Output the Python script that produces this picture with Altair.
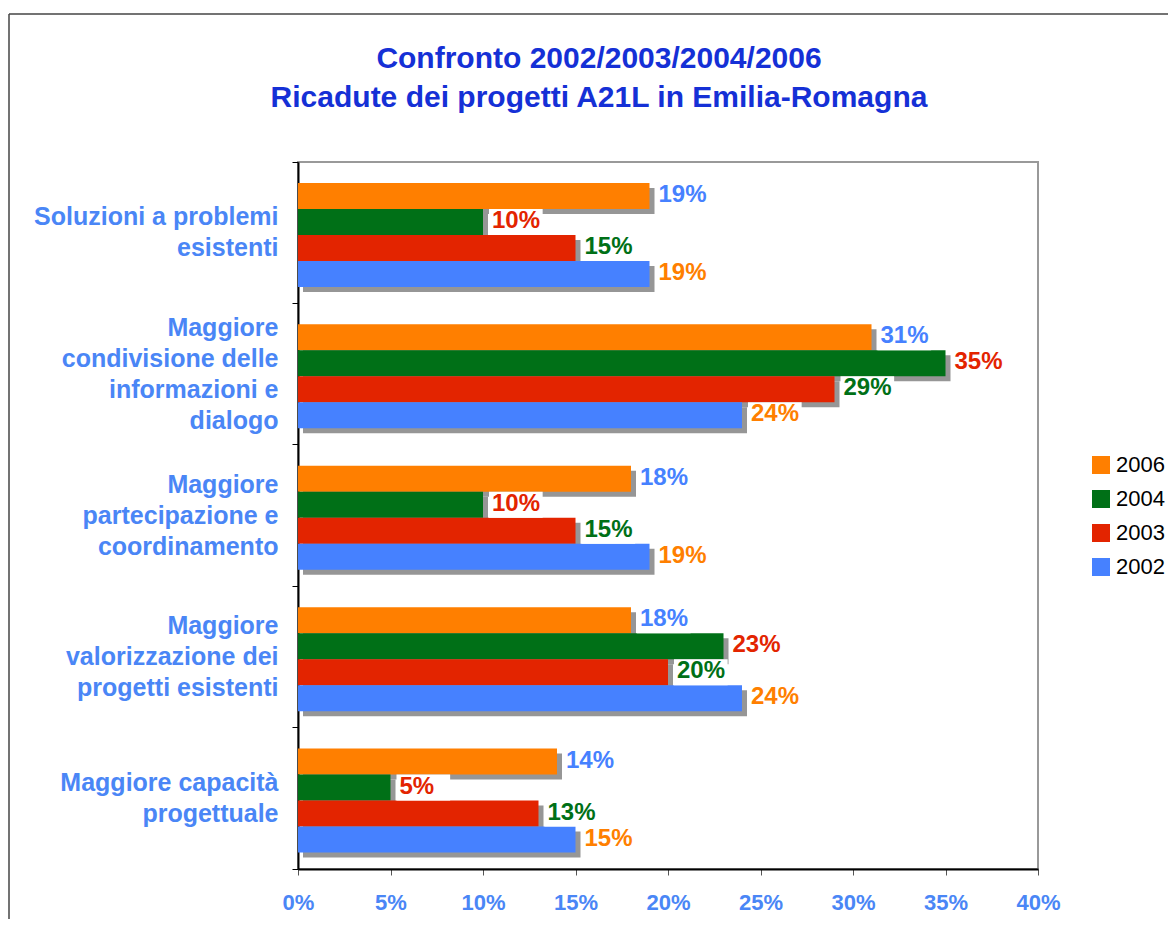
import altair as alt
import pandas as pd

categories = [
    "Soluzioni a problemi|esistenti",
    "Maggiore|condivisione delle|informazioni e|dialogo",
    "Maggiore|partecipazione e|coordinamento",
    "Maggiore|valorizzazione dei|progetti esistenti",
    "Maggiore capacità|progettuale",
]
years = ["2006", "2004", "2003", "2002"]
v2006 = [19, 31, 18, 18, 14]
v2004 = [10, 35, 10, 23, 5]
v2003 = [15, 29, 15, 20, 13]
v2002 = [19, 24, 19, 24, 15]
bar_colors = ["#FF7F00", "#007017", "#E32400", "#4681FF"]
label_colors = ["#4681FF", "#E32400", "#007017", "#FF7F00"]
x_ticks = [0, 5, 10, 15, 20, 25, 30, 35, 40]
title_lines = ["Confronto 2002/2003/2004/2006", "Ricadute dei progetti A21L in Emilia-Romagna"]

series = [v2006, v2004, v2003, v2002]
rows = []
for yi, (yr, vals) in enumerate(zip(years, series)):
    for ci, cat in enumerate(categories):
        rows.append({"cat": cat, "year": yr, "value": vals[ci], "lc": label_colors[yi]})
df = pd.DataFrame(rows)

FONT = "Liberation Sans"
BLUE_TXT = "#4A86F6"
LH = 31
NLINES = "length(split(datum.value, '|'))"

band = 707 / 5
y_enc = alt.Y(
    "cat:N",
    sort=categories,
    scale=alt.Scale(paddingInner=0, paddingOuter=0),
    axis=alt.Axis(
        title=None,
        labelExpr="split(datum.label, '|')",
        bandPosition=1,
        tickExtra=True,
        labelFont=FONT,
        labelFontSize=25,
        labelFontWeight="bold",
        labelColor=BLUE_TXT,
        labelLineHeight=LH,
        labelOffset={
            "condition": [
                {"test": NLINES + " == 4", "value": -1.5 * LH},
                {"test": NLINES + " == 3", "value": -1.0 * LH},
            ],
            "value": -0.5 * LH,
        },
        labelLimit=400,
        labelPadding=14,
        labelBaseline="middle",
        tickSize=6,
        tickColor="#000000",
        domainColor="#000000",
        domainWidth=2,
    ),
)
x_enc = alt.X(
    "value:Q",
    scale=alt.Scale(domain=[0, 40], nice=False),
    axis=alt.Axis(
        title=None,
        values=x_ticks,
        labelExpr="datum.value + '%'",
        labelFont=FONT,
        labelFontSize=22,
        labelFontWeight="bold",
        labelColor=BLUE_TXT,
        labelFlush=False,
        labelPadding=17,
        tickSize=6,
        tickColor="#555555",
        domainColor="#000000",
        domainWidth=2,
        grid=False,
    ),
)


def yoff(shift):
    return alt.YOffset(
        "year:N",
        sort=years,
        scale=alt.Scale(type="band", paddingOuter=0.72, paddingInner=0, align=0.56,
                        range=[shift, band + shift]),
    )


base = alt.Chart(df)

shadow = base.mark_bar(color="#969696", xOffset=5, x2Offset=4).encode(
    x=x_enc, y=y_enc, yOffset=yoff(5)
)
bars = base.mark_bar().encode(
    x=x_enc,
    y=y_enc,
    yOffset=yoff(0),
    color=alt.Color(
        "year:N",
        sort=years,
        scale=alt.Scale(domain=years, range=bar_colors),
        legend=alt.Legend(
            title=None,
            orient="none",
            legendX=792,
            legendY=292,
            symbolType="square",
            symbolSize=324,
            symbolStrokeWidth=0,
            labelFont=FONT,
            labelFontSize=22,
            labelColor="#000000",
            labelOffset=4,
            rowPadding=12,
        ),
    ),
)
whitebox = base.transform_calculate(xe="datum.value + 2.9").mark_bar(
    color="white", xOffset=6, x2Offset=6
).encode(x=alt.X("value:Q"), x2="xe:Q", y=y_enc, yOffset=yoff(0))
labels = base.transform_calculate(t="datum.value + '%'").mark_text(
    align="left", baseline="middle", dx=9, dy=-1, font=FONT, fontSize=24, fontWeight="bold"
).encode(
    x=alt.X("value:Q"),
    y=y_enc,
    yOffset=yoff(0),
    text="t:N",
    color=alt.Color("lc:N", scale=None),
)

title1 = alt.Chart(pd.DataFrame({"t": [title_lines[0]]})).mark_text(
    font=FONT, fontSize=30, fontWeight="bold", color="#1530D6", align="center", baseline="middle"
).encode(text="t:N", x=alt.value(301), y=alt.value(-103))
title2 = alt.Chart(pd.DataFrame({"t": [title_lines[1]]})).mark_text(
    font=FONT, fontSize=30, fontWeight="bold", color="#1530D6", align="center", baseline="middle"
).encode(text="t:N", x=alt.value(301), y=alt.value(-64))

frame_top = alt.Chart(pd.DataFrame({"a": [0]})).mark_rule(color="#444444", strokeWidth=1.5).encode(
    x=alt.value(-289), x2=alt.value(900), y=alt.value(-148)
)
frame_left = alt.Chart(pd.DataFrame({"a": [0]})).mark_rule(color="#444444", strokeWidth=1.5).encode(
    x=alt.value(-289), y=alt.value(-148), y2=alt.value(800)
)

chart = (
    alt.layer(shadow, bars, whitebox, labels, title1, title2, frame_top, frame_left)
    .resolve_scale(yOffset="independent", color="independent")
    .properties(
        width=740,
        height=707,
        autosize=alt.AutoSizeParams(type="none"),
        padding={"left": 290, "top": 154, "right": 130, "bottom": 50},
    )
    .configure_view(stroke="#999999", strokeWidth=2)
)

chart.save("out.html", embed_options={"renderer": "svg", "actions": False})
